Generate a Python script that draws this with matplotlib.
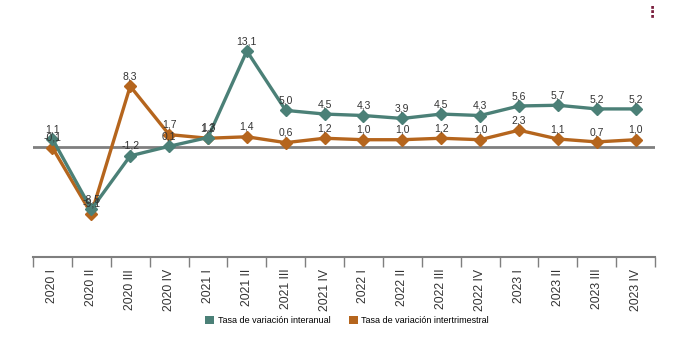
import numpy as np
import matplotlib.pyplot as plt
from matplotlib.patches import Patch

plt.rcParams['font.family'] = ['Liberation Sans', 'DejaVu Sans']

# trimestres
trimestres = ['2020 I', '2020 II', '2020 III', '2020 IV',
              '2021 I', '2021 II', '2021 III', '2021 IV',
              '2022 I', '2022 II', '2022 III', '2022 IV',
              '2023 I', '2023 II', '2023 III', '2023 IV']

# tasas de variacion (%)
interanual = [1.1, -8.5, -1.2, 0.1, 1.3, 13.1, 5.0, 4.5, 4.3, 3.9, 4.5, 4.3, 5.6, 5.7, 5.2, 5.2]
intertrimestral = [-0.1, -9.1, 8.3, 1.7, 1.2, 1.4, 0.6, 1.2, 1.0, 1.0, 1.2, 1.0, 2.3, 1.1, 0.7, 1.0]

color_ia = '#4b8077'
color_it = '#b5651d'

fig = plt.figure(figsize=(6.94, 3.40), dpi=100)
ax = fig.add_axes([0.0476, 0.244, 0.8962, 0.647])

x = np.arange(len(trimestres))

ax.axhline(0, color='#7f7f7f', lw=2, zorder=1)

ax.plot(x, intertrimestral, color=color_it, lw=2.4, marker='D', ms=6, zorder=2)
ax.plot(x, interanual, color=color_ia, lw=2.4, marker='D', ms=6, zorder=3)

# etiquetas de valores
for serie in (intertrimestral, interanual):
    for xi, v in zip(x, serie):
        ax.annotate(f'{v:.1f}'.replace('.', ','), (xi, v), xytext=(0, 3.5),
                    textcoords='offset points', ha='center', va='bottom',
                    fontsize=7.5, color='#333333', zorder=5)

ax.set_xlim(-0.5, len(trimestres) - 0.5)
ax.set_ylim(-15, 15)
ax.set_yticks([])

for s in ('top', 'right', 'left'):
    ax.spines[s].set_visible(False)
ax.spines['bottom'].set_color('#7f7f7f')
ax.spines['bottom'].set_linewidth(1.5)

# marcas entre trimestres, etiquetas centradas
ax.set_xticks(np.arange(len(trimestres) + 1) - 0.5)
ax.set_xticklabels([])
ax.tick_params(axis='x', which='major', length=7, width=1, color='#7f7f7f')
ax.set_xticks(x, minor=True)
ax.set_xticklabels(trimestres, minor=True, rotation=90, fontsize=8.8, color='#333333')
ax.tick_params(axis='x', which='minor', length=0, pad=8.5)

handles = [Patch(facecolor=color_ia, label='Tasa de variación interanual'),
           Patch(facecolor=color_it, label='Tasa de variación intertrimestral')]
fig.legend(handles=handles, loc='center', bbox_to_anchor=(0.5, 0.058), ncol=2,
           frameon=False, fontsize=6.5, handlelength=1.0, handleheight=1.0,
           handletextpad=0.4, columnspacing=2.0)

fig.text(0.94, 0.985, '⋮', color='#7a1f3d', fontsize=11, ha='center', va='top',
         fontweight='bold')

fig.savefig('out.png', dpi=100)
